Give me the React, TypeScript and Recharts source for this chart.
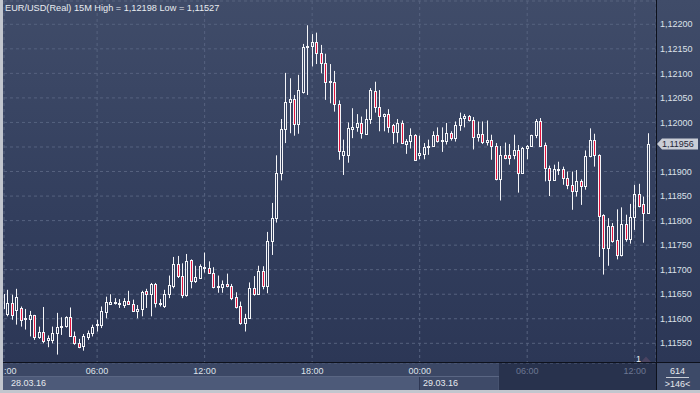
import React from "react";
import { ComposedChart, Bar, XAxis, YAxis, CartesianGrid, ReferenceLine } from "recharts";

const FONT = '"Liberation Sans", Arial, Helvetica, sans-serif';
const WICK = "#f4f5f8";
const RED = "#e3143d";
const GRID = "#56627f";

// 15M candles, 28.03.16 00:45 -> 29.03.16 12:45
const OPEN = [
  1.11622, 1.1161, 1.11632, 1.11618, 1.11622, 1.11599, 1.116, 1.11607, 1.11562, 1.11574,
  1.11557, 1.11557, 1.11571, 1.11584, 1.11586, 1.11603, 1.11565, 1.1155, 1.11544, 1.11562,
  1.11571, 1.11587, 1.11588, 1.11614, 1.11631, 1.11633, 1.1163, 1.11629, 1.11637, 1.1163,
  1.11615, 1.1162, 1.11656, 1.1165, 1.11671, 1.1163, 1.11626, 1.11651, 1.11666, 1.11711,
  1.11688, 1.11649, 1.11719, 1.11676, 1.11684, 1.11703, 1.11703, 1.11694, 1.11664, 1.11664,
  1.11671, 1.11667, 1.11645, 1.11625, 1.11592, 1.11601, 1.11662, 1.1165, 1.11698, 1.11666,
  1.11758, 1.11805, 1.11897, 1.11986, 1.12041, 1.12048, 1.11996, 1.12062, 1.12153, 1.12155,
  1.12163, 1.12141, 1.12122, 1.12083, 1.12083, 1.12038, 1.11934, 1.11934, 1.11986, 1.1199,
  1.11998, 1.11977, 1.12007, 1.12065, 1.12031, 1.12014, 1.12017, 1.11994, 1.11981, 1.11998,
  1.11957, 1.11962, 1.11975, 1.11933, 1.11935, 1.1195, 1.11952, 1.11975, 1.11963, 1.11963,
  1.11979, 1.11968, 1.11994, 1.12009, 1.12013, 1.12006, 1.11971, 1.11976, 1.11961, 1.11965,
  1.11952, 1.11885, 1.11934, 1.11934, 1.11934, 1.11944, 1.11898, 1.11948, 1.11951, 1.11975,
  1.12002, 1.11954, 1.11907, 1.11882, 1.11903, 1.11905, 1.11886, 1.11873, 1.11861, 1.1188,
  1.11871, 1.11931, 1.11965, 1.11934, 1.11812, 1.11744, 1.11789, 1.11761, 1.1173, 1.11793,
  1.11762, 1.11807, 1.11855, 1.11834, 1.11816,
];
const HIGH = [
  1.11652, 1.11659, 1.11649, 1.11661, 1.11625, 1.1162, 1.11616, 1.11608, 1.11584, 1.11624,
  1.11566, 1.11584, 1.11612, 1.11603, 1.11605, 1.11623, 1.11574, 1.11559, 1.11569, 1.11576,
  1.11588, 1.11598, 1.11625, 1.11645, 1.1165, 1.11642, 1.1164, 1.11642, 1.11657, 1.11639,
  1.11628, 1.11657, 1.11661, 1.11673, 1.11673, 1.1164, 1.11659, 1.11688, 1.11726, 1.11728,
  1.11713, 1.11732, 1.11721, 1.11708, 1.11711, 1.11735, 1.11717, 1.11705, 1.11688, 1.11678,
  1.11692, 1.11671, 1.11654, 1.11635, 1.1161, 1.11674, 1.11687, 1.11708, 1.11707, 1.11777,
  1.11836, 1.11933, 1.12007, 1.12101, 1.1209, 1.12056, 1.12097, 1.1216, 1.12198, 1.1218,
  1.12183, 1.12158, 1.1214, 1.12119, 1.12105, 1.12045, 1.11965, 1.12, 1.12029, 1.12017,
  1.12012, 1.12027, 1.1207, 1.12083, 1.12066, 1.12018, 1.12027, 1.11997, 1.12007, 1.12004,
  1.11966, 1.11988, 1.11976, 1.11973, 1.11958, 1.11965, 1.11982, 1.1199, 1.1199, 1.11999,
  1.11982, 1.12002, 1.1202, 1.12017, 1.12015, 1.12011, 1.12002, 1.12002, 1.12004, 1.11975,
  1.11958, 1.11952, 1.11959, 1.11956, 1.11975, 1.11954, 1.1195, 1.11954, 1.11975, 1.12007,
  1.12009, 1.11959, 1.11912, 1.11914, 1.1192, 1.1191, 1.119, 1.119, 1.11903, 1.11884,
  1.11943, 1.11988, 1.11977, 1.11935, 1.11813, 1.11805, 1.11795, 1.11823, 1.11827, 1.11812,
  1.11834, 1.11873, 1.11875, 1.11849, 1.11978,
];
const LOW = [
  1.1162, 1.11605, 1.11598, 1.11588, 1.11584, 1.11578, 1.11564, 1.11557, 1.11559, 1.1155,
  1.11542, 1.1155, 1.11527, 1.11567, 1.11582, 1.11564, 1.11547, 1.1154, 1.11535, 1.11557,
  1.11564, 1.11574, 1.11581, 1.11601, 1.11629, 1.11629, 1.11622, 1.11622, 1.11628, 1.11615,
  1.11601, 1.11605, 1.11622, 1.11605, 1.11623, 1.11625, 1.11622, 1.11642, 1.11662, 1.11683,
  1.11642, 1.11645, 1.11662, 1.11673, 1.11681, 1.11694, 1.11692, 1.11662, 1.11653, 1.11653,
  1.11664, 1.11638, 1.11621, 1.11588, 1.11574, 1.116, 1.11647, 1.11649, 1.1166, 1.11652,
  1.1173, 1.11796, 1.11882, 1.11958, 1.11978, 1.11973, 1.11977, 1.12059, 1.12056, 1.12114,
  1.12119, 1.121, 1.12046, 1.12039, 1.12022, 1.11924, 1.11893, 1.11918, 1.11968, 1.11981,
  1.11967, 1.11975, 1.11997, 1.1202, 1.11982, 1.11982, 1.11979, 1.11956, 1.11959, 1.11956,
  1.11936, 1.11947, 1.11922, 1.11925, 1.11925, 1.11934, 1.11951, 1.11959, 1.1194, 1.11955,
  1.11963, 1.11961, 1.11983, 1.1199, 1.12002, 1.11945, 1.11961, 1.11956, 1.11953, 1.11924,
  1.11882, 1.11841, 1.11925, 1.11914, 1.11925, 1.11857, 1.11895, 1.11925, 1.11951, 1.11968,
  1.1195, 1.1188, 1.1185, 1.11882, 1.11893, 1.11873, 1.11864, 1.11822, 1.11849, 1.11832,
  1.11863, 1.11929, 1.1191, 1.11726, 1.1169, 1.11708, 1.11755, 1.11721, 1.11727, 1.11757,
  1.11753, 1.11781, 1.11827, 1.11755, 1.11815,
];
const CLOSE = [
  1.1165, 1.11632, 1.11608, 1.11644, 1.11598, 1.11601, 1.11607, 1.11562, 1.11574, 1.11555,
  1.11561, 1.11571, 1.11584, 1.11586, 1.11603, 1.11565, 1.1155, 1.11542, 1.11564, 1.11572,
  1.11584, 1.11589, 1.11615, 1.11634, 1.11634, 1.11634, 1.11633, 1.11637, 1.1163, 1.11616,
  1.1162, 1.11654, 1.1165, 1.11671, 1.11632, 1.11632, 1.11651, 1.11668, 1.11711, 1.11688,
  1.11649, 1.11717, 1.11676, 1.11685, 1.11707, 1.11706, 1.11694, 1.11664, 1.11666, 1.11671,
  1.11666, 1.11643, 1.11624, 1.11592, 1.11602, 1.11662, 1.11651, 1.11698, 1.11666, 1.11759,
  1.11805, 1.11898, 1.11987, 1.12041, 1.12048, 1.11996, 1.12066, 1.12153, 1.12156, 1.12164,
  1.12141, 1.12122, 1.12083, 1.12085, 1.12038, 1.11942, 1.11942, 1.11988, 1.1199, 1.11998,
  1.11978, 1.12007, 1.12066, 1.12031, 1.12014, 1.12017, 1.11991, 1.11981, 1.11998, 1.11958,
  1.11962, 1.11975, 1.11923, 1.11937, 1.1195, 1.11953, 1.11975, 1.11963, 1.11964, 1.11978,
  1.11968, 1.11995, 1.12009, 1.12013, 1.12006, 1.11971, 1.11976, 1.11961, 1.11964, 1.11951,
  1.11885, 1.11934, 1.11927, 1.11927, 1.11944, 1.11898, 1.11948, 1.11952, 1.11975, 1.12002,
  1.11952, 1.11907, 1.11882, 1.11905, 1.11905, 1.11886, 1.11873, 1.11861, 1.1188, 1.11871,
  1.11932, 1.11965, 1.11934, 1.1181, 1.11744, 1.11789, 1.11759, 1.1173, 1.11793, 1.11762,
  1.11807, 1.11855, 1.1183, 1.11816, 1.11956,
];

const PRICE_TICKS = [
  1.1155, 1.116, 1.1165, 1.117, 1.1175, 1.118, 1.1185, 1.119, 1.1195, 1.12, 1.1205, 1.121, 1.1215, 1.122,
];
const TIME_TICKS = [21, 45, 69, 93, 117, 141];
const TIME_LABELS = ["06:00", "12:00", "18:00", "00:00", "06:00", "12:00"];
const DATE_LABELS = ["28.03.16", "29.03.16"];
const FUTURE_FROM = 111; // time labels from here on are greyed out

const X_DOMAIN = [0.2165, 145.75];
const Y_DOMAIN = [1.1150986, 1.1224747];

const data = OPEN.map((o, i) => ({
  i,
  open: o,
  high: HIGH[i],
  low: LOW[i],
  close: CLOSE[i],
}));

const LAST = CLOSE[CLOSE.length - 1];

const fmt = (v: number) => v.toFixed(5).replace(".", ",");

const Candle = (props: any) => {
  const { x, y, width, height, payload } = props;
  if (!payload) return null;
  const top = Math.min(y, y + height);
  const bot = Math.max(y, y + height);
  const span = payload.high - payload.low;
  const k = span > 0 ? (bot - top) / span : 0;
  const yo = top + (payload.high - payload.open) * k;
  const yc = top + (payload.high - payload.close) * k;
  const c = Math.floor(x + width / 2) + 0.5;
  const bt = Math.round(Math.min(yo, yc)) + 0.5;
  let bb = Math.round(Math.max(yo, yc)) + 0.5;
  if (bb - bt < 1) bb = bt + 1;
  const up = payload.close >= payload.open;
  return (
    <g>
      {bt > top && <line x1={c} x2={c} y1={top} y2={bt} stroke={WICK} strokeWidth={1} />}
      {bot > bb && <line x1={c} x2={c} y1={bb} y2={bot} stroke={WICK} strokeWidth={1} />}
      <rect x={c - 1} y={bt} width={2} height={bb - bt} fill={up ? "none" : RED} stroke={WICK} strokeWidth={1} />
    </g>
  );
};

const TimeTick = (props: any) => {
  const { x, payload } = props;
  const idx = TIME_TICKS.indexOf(payload.value);
  if (idx < 0) return null;
  const dim = payload.value >= FUTURE_FROM;
  return (
    <text x={x} y={374.3} textAnchor="middle" fontSize={9} fontFamily={FONT} fill={dim ? "#6c7792" : "#dfe3ea"}>
      {TIME_LABELS[idx]}
    </text>
  );
};

// price labels; the one under the last-price tag is hidden like in the terminal
const PriceTick = (props: any) => {
  const { x, y, payload } = props;
  if (Math.abs(payload.value - LAST) < 0.00025) return null;
  return (
    <text x={x} y={y} dy="0.355em" fontSize={9} fontFamily={FONT} fill="#dce1e9">
      {fmt(payload.value)}
    </text>
  );
};

const PriceTag = (props: any) => {
  const vb = props.viewBox || {};
  const x0 = (vb.x || 0) + (vb.width || 0) + 1;
  const yy = vb.y || 0;
  const pts = `${x0},${yy} ${x0 + 5},${yy - 5.5} ${x0 + 41},${yy - 5.5} ${x0 + 41},${yy + 5.5} ${x0 + 5},${yy + 5.5}`;
  return (
    <g>
      <polygon points={pts} fill="#c9cdd6" />
      <text x={x0 + 5} y={yy + 3.3} fontSize={9} fontFamily={FONT} fill="#1e2536">
        {fmt(LAST)}
      </text>
    </g>
  );
};

const abs = (left: number, top: number, width: number, height: number, background: string): React.CSSProperties => ({
  position: "absolute",
  left,
  top,
  width,
  height,
  background,
});

export default function App() {
  return (
    <div style={{ position: "fixed", left: 0, top: 0, width: 700, height: 393, background: "#2c3756", overflow: "hidden" }}>
      <div style={abs(3, 0, 697, 363, "linear-gradient(to bottom, #404c69 0%, #3a4664 25%, #323e5d 60%, #2c3756 100%)")} />
      <div style={abs(3, 363, 496, 14, "#3b4765")} />
      <div style={abs(3, 377, 416, 13, "#4d5a79")} />
      <div style={abs(420, 377, 78, 13, "#3e4a68")} />
      <div style={abs(499, 363, 157, 27, "#28324d")} />
      <div style={abs(657, 363, 43, 27, "#3d4a68")} />
      <div style={abs(0, 0, 3, 393, "#c2c6ce")} />
      <div style={abs(0, 390, 700, 3, "#c2c6ce")} />

      <div style={{ position: "absolute", left: 0, top: 0 }}>
        <ComposedChart width={700} height={393} data={data} margin={{ top: 1, right: 0, bottom: 16, left: 4 }}>
          <CartesianGrid stroke={GRID} strokeDasharray="3 3" />
          <XAxis
            type="number"
            dataKey="i"
            domain={X_DOMAIN}
            allowDataOverflow
            ticks={TIME_TICKS}
            interval={0}
            tick={<TimeTick />}
            tickLine={false}
            axisLine={false}
            tickSize={0}
            tickMargin={0}
            height={14}
          />
          <YAxis
            orientation="right"
            domain={Y_DOMAIN}
            allowDataOverflow
            ticks={PRICE_TICKS}
            interval={0}
            width={44}
            tick={<PriceTick />}
            tickLine={false}
            axisLine={false}
            tickSize={0}
            tickMargin={4}
          />
          <Bar
            dataKey={(d: any) => [d.low, d.high]}
            barSize={3}
            shape={<Candle />}
            isAnimationActive={false}
          />
          <ReferenceLine y={LAST} stroke="none" label={<PriceTag />} ifOverflow="visible" />
        </ComposedChart>
      </div>

      <svg width={700} height={393} style={{ position: "absolute", left: 0, top: 0, pointerEvents: "none" }}>
        <line x1={656.5} x2={656.5} y1={0} y2={390} stroke="#0d111c" strokeWidth={1} />
        <line x1={3} x2={700} y1={362.5} y2={362.5} stroke="#0d111c" strokeWidth={1} />
        <line x1={3} x2={499} y1={376.5} y2={376.5} stroke="#5a6683" strokeWidth={1} />
        <line x1={419.5} x2={419.5} y1={377} y2={390} stroke="#2e3754" strokeWidth={1} />
        <line x1={498.5} x2={498.5} y1={377} y2={390} stroke="#46526f" strokeWidth={1} />
        <text x={5} y={11} fontSize={9.2} fontFamily={FONT} fill="#e9ecf1">
          EUR/USD(Real) 15M High = 1,12198 Low = 1,11527
        </text>
        <text x={4} y={374.3} fontSize={9} fontFamily={FONT} fill="#dfe3ea">
          :00
        </text>
        <text x={11} y={386} fontSize={9} fontFamily={FONT} fill="#e6e9ef">
          {DATE_LABELS[0]}
        </text>
        <text x={423} y={386} fontSize={9} fontFamily={FONT} fill="#e6e9ef">
          {DATE_LABELS[1]}
        </text>
        <text x={677.5} y={373.5} textAnchor="middle" fontSize={9} fontFamily={FONT} fill="#e6e9ef">
          614
        </text>
        <line x1={666} x2={689} y1={377.5} y2={377.5} stroke="#c9cdd6" strokeWidth={1} />
        <text x={677.5} y={386.5} textAnchor="middle" fontSize={9} fontFamily={FONT} fill="#e6e9ef">
          &gt;146&lt;
        </text>
        <polygon points="641,362 646,356.5 651,362" fill="#4a4462" />
        <text x={636} y={361.5} fontSize={9} fontFamily={FONT} fill="#eef0f4">
          1
        </text>
      </svg>
    </div>
  );
}
